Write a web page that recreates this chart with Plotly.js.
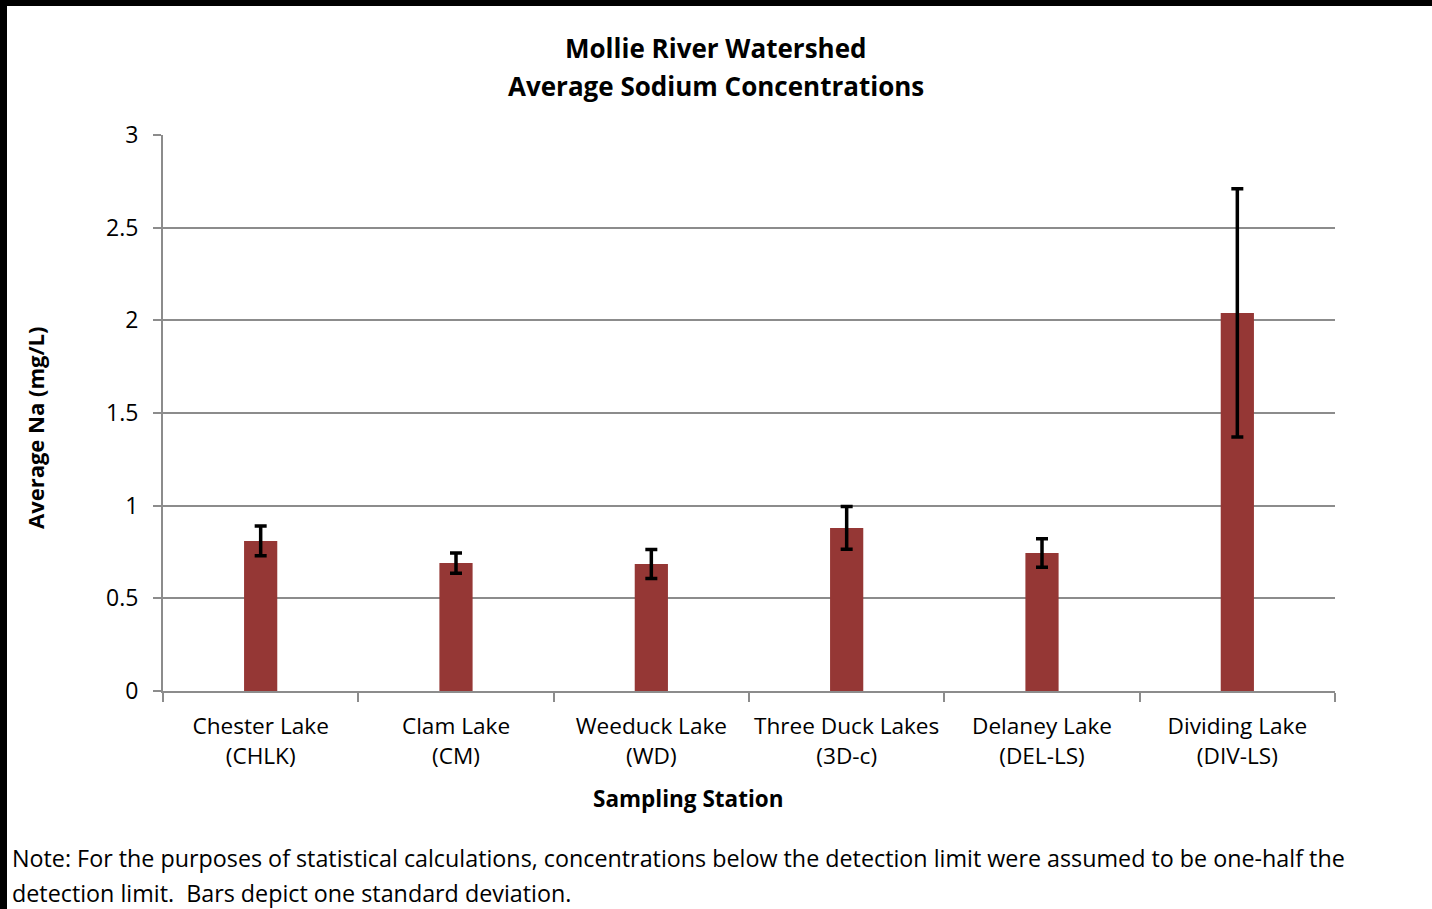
<!DOCTYPE html>
<html>
<head>
<meta charset="utf-8">
<script src="https://cdn.plot.ly/plotly-3.0.1.min.js"></script>
<style>
html,body{margin:0;padding:0;background:#fff;}
#wrap{position:relative;width:1432px;height:909px;overflow:hidden;}
#chart{position:absolute;left:0;top:0;width:1432px;height:909px;}
.bt{position:absolute;left:0;top:0;width:1432px;height:6px;background:#000;}
.bl{position:absolute;left:0;top:0;width:7px;height:909px;background:#000;}
</style>
</head>
<body>
<div id="wrap"><div id="chart"></div><div class="bt"></div><div class="bl"></div></div>
<script>
var stations = ["Chester Lake<br>(CHLK)", "Clam Lake<br>(CM)", "Weeduck Lake<br>(WD)", "Three Duck Lakes<br>(3D-c)", "Delaney Lake<br>(DEL-LS)", "Dividing Lake<br>(DIV-LS)"];
var avgNa = [0.81, 0.69, 0.685, 0.88, 0.745, 2.04];
var stdDev = [0.08, 0.055, 0.078, 0.115, 0.077, 0.67];
var titleLines = ["Mollie River Watershed", "Average Sodium Concentrations"];
var noteLines = ["Note: For the purposes of statistical calculations, concentrations below the detection limit were assumed to be one-half the", "detection limit.  Bars depict one standard deviation."];

var F = "Open Sans, Lato, sans-serif";
var trace = {
  type: "bar",
  x: stations,
  y: avgNa,
  marker: {color: "#953735", line: {width: 0}},
  error_y: {type: "data", array: stdDev, visible: true, color: "#000", thickness: 3.5, width: 6},
  hoverinfo: "skip"
};
var layout = {
  width: 1432, height: 909,
  margin: {l: 163, r: 97, t: 135, b: 218},
  paper_bgcolor: "#fff", plot_bgcolor: "#fff",
  font: {family: F, color: "#000", size: 22},
  showlegend: false,
  bargap: 0.83,
  xaxis: {
    type: "category",
    showline: true, linecolor: "#8c8c8c", linewidth: 2,
    ticks: "outside", tickson: "boundaries", ticklen: 9, tickcolor: "#8c8c8c", tickwidth: 2,
    tickfont: {family: F, size: 22.6},
    ticklabelstandoff: 14,
    showgrid: false
  },
  yaxis: {
    range: [0, 3], dtick: 0.5, tick0: 0,
    showline: true, linecolor: "#8c8c8c", linewidth: 2,
    ticks: "outside", ticklen: 8, tickcolor: "#8c8c8c", tickwidth: 2,
    showgrid: true, gridcolor: "#8c8c8c", gridwidth: 2,
    zeroline: false,
    tickfont: {family: F, size: 23},
    ticklabelstandoff: 10
  },
  annotations: [
    {xref: "paper", yref: "paper", x: 0.4718, y: 1.1565, xanchor: "center", yanchor: "middle",
     showarrow: false, text: "<b>" + titleLines[0] + "</b>", font: {family: F, size: 26, color: "#000"}},
    {xref: "paper", yref: "paper", x: 0.4718, y: 1.0881, xanchor: "center", yanchor: "middle",
     showarrow: false, text: "<b>" + titleLines[1] + "</b>", font: {family: F, size: 26, color: "#000"}},
    {xref: "paper", yref: "paper", x: 0.4488, y: -0.194, xanchor: "center", yanchor: "middle",
     showarrow: false, text: "<b>Sampling Station</b>", font: {family: F, size: 22.5, color: "#000"}},
    {xref: "paper", yref: "paper", x: -0.1092, y: 0.473, xanchor: "center", yanchor: "middle",
     textangle: -90, showarrow: false, text: "<b>Average Na (mg/L)</b>", font: {family: F, size: 22, color: "#000"}},
    {xref: "paper", yref: "paper", x: -0.1305, y: -0.3004, xanchor: "left", yanchor: "middle",
     align: "left", showarrow: false, text: noteLines[0], font: {family: F, size: 23.3, color: "#000"}},
    {xref: "paper", yref: "paper", x: -0.1305, y: -0.3633, xanchor: "left", yanchor: "middle",
     align: "left", showarrow: false, text: noteLines[1], font: {family: F, size: 23.3, color: "#000"}}
  ]
};
Plotly.newPlot("chart", [trace], layout, {displayModeBar: false, staticPlot: true});
</script>
</body>
</html>
